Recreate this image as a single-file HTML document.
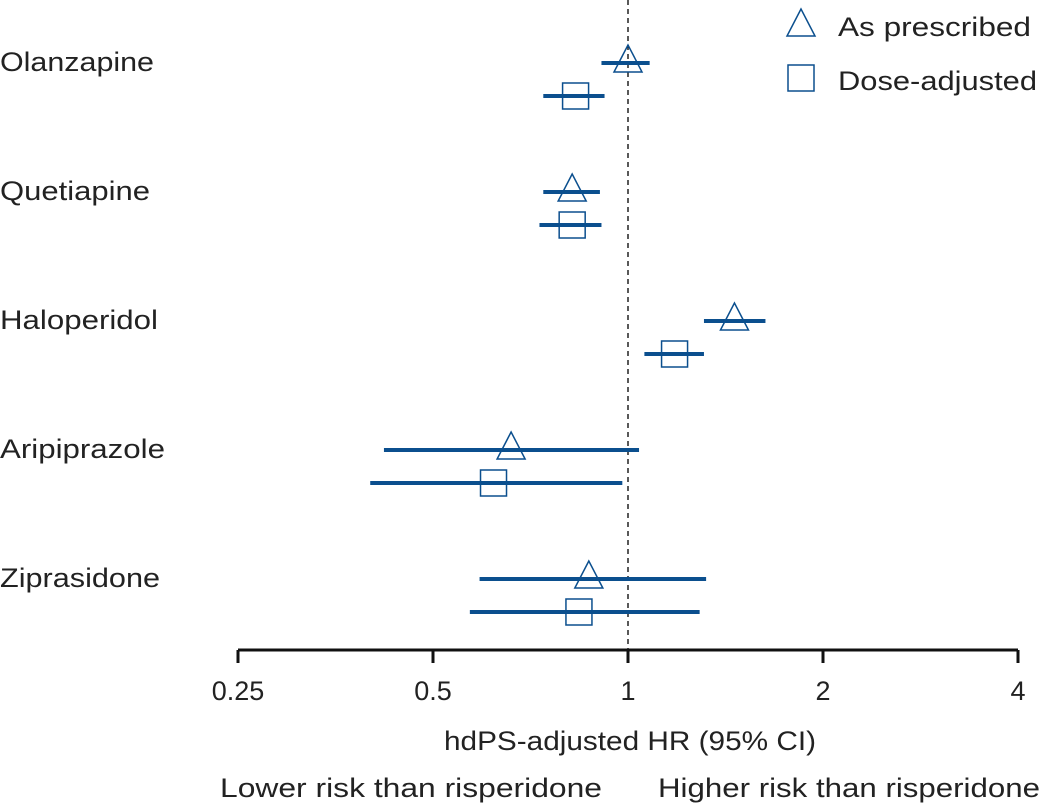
<!DOCTYPE html>
<html><head><meta charset="utf-8"><style>
html,body{margin:0;padding:0;background:#fff;}
svg{display:block;font-family:"Liberation Sans","DejaVu Sans",sans-serif;}
</style></head><body>
<svg id="chart" width="1045" height="806" viewBox="0 0 1045 806">
</svg>
<script>
const drugs=["Olanzapine","Quetiapine","Haloperidol","Aripiprazole","Ziprasidone"];
const prescribedHR=[1.0,0.82,1.46,0.66,0.87];
const prescribedLo=[0.91,0.74,1.31,0.42,0.59];
const prescribedHi=[1.08,0.905,1.63,1.04,1.32];
const adjustedHR=[0.83,0.82,1.18,0.62,0.84];
const adjustedLo=[0.74,0.73,1.06,0.40,0.57];
const adjustedHi=[0.92,0.91,1.31,0.98,1.29];
const ticks=[0.25,0.5,1,2,4];
const tickLabels=["0.25","0.5","1","2","4"];

const NS="http://www.w3.org/2000/svg";
const svg=document.getElementById('chart');
const C="#0b4f8e";
const labelWidths=[154,150,158,165,160];
function x(v){return 628+195*Math.log2(v);}
function rowY(i){return 61+129*i;}
function mk(t,a,p){const e=document.createElementNS(NS,t);for(const k in a)e.setAttribute(k,a[k]);(p||svg).appendChild(e);return e;}
function fit(e,w){e.setAttribute('textLength',w);e.setAttribute('lengthAdjust','spacingAndGlyphs');}

let ref=mk('line',{x1:x(1),x2:x(1),y1:0,y2:650,stroke:"#222","stroke-width":1.5,"stroke-dasharray":"5,4"});



let ax=mk('line',{x1:x(0.25),x2:x(4),y1:650,y2:650,stroke:"#111","stroke-width":3});


ticks.forEach((t,i)=>{
  let tk=mk('line',{x1:x(t),x2:x(t),y1:650,y2:663,stroke:"#111","stroke-width":3});
  
  
  let tl=mk('text',{x:x(t),y:700,"text-anchor":"middle","font-size":27,fill:"#222"});
  tl.textContent=tickLabels[i];
  
  
});

function tri(cx,cy,name){
  let p=mk('polygon',{points:`${cx},${cy-16} ${cx-14},${cy+11} ${cx+14},${cy+11}`,fill:"none",stroke:C,"stroke-width":1.5});
  
  
}
function sq(cx,cy,name){
  let r=mk('rect',{x:cx-13,y:cy-13,width:26,height:26,fill:"none",stroke:C,"stroke-width":1.5});
  
  
}

drugs.forEach((d,i)=>{
  const y0=rowY(i), y1=rowY(i)+35;
  let lb=mk('text',{x:0,y:y0+10,"font-size":27,fill:"#222"});
  lb.textContent=d;
  fit(lb,labelWidths[i]);
  
  
  let l1=mk('line',{x1:x(prescribedLo[i]),x2:x(prescribedHi[i]),y1:y0+2,y2:y0+2,stroke:C,"stroke-width":4});
  
  
  tri(x(prescribedHR[i]),y0,'point-as-prescribed');
  let l2=mk('line',{x1:x(adjustedLo[i]),x2:x(adjustedHi[i]),y1:y1,y2:y1,stroke:C,"stroke-width":4});
  
  
  sq(x(adjustedHR[i]),y1,'point-dose-adjusted');
});

tri(801,25,'legend-triangle');
let lt1=mk('text',{x:838,y:36,"font-size":27,fill:"#222"});lt1.textContent="As prescribed";fit(lt1,193);


sq(801,78,'legend-square');
let lt2=mk('text',{x:838,y:90,"font-size":27,fill:"#222"});lt2.textContent="Dose-adjusted";fit(lt2,199);



let xt=mk('text',{x:444,y:750,"font-size":27,fill:"#222"});xt.textContent="hdPS-adjusted HR (95% CI)";fit(xt,372);


let lo=mk('text',{x:220,y:797,"font-size":27,fill:"#222"});lo.textContent="Lower risk than risperidone";fit(lo,382);


let hi=mk('text',{x:658,y:797,"font-size":27,fill:"#222"});hi.textContent="Higher risk than risperidone";fit(hi,382);


</script>
</body></html>
